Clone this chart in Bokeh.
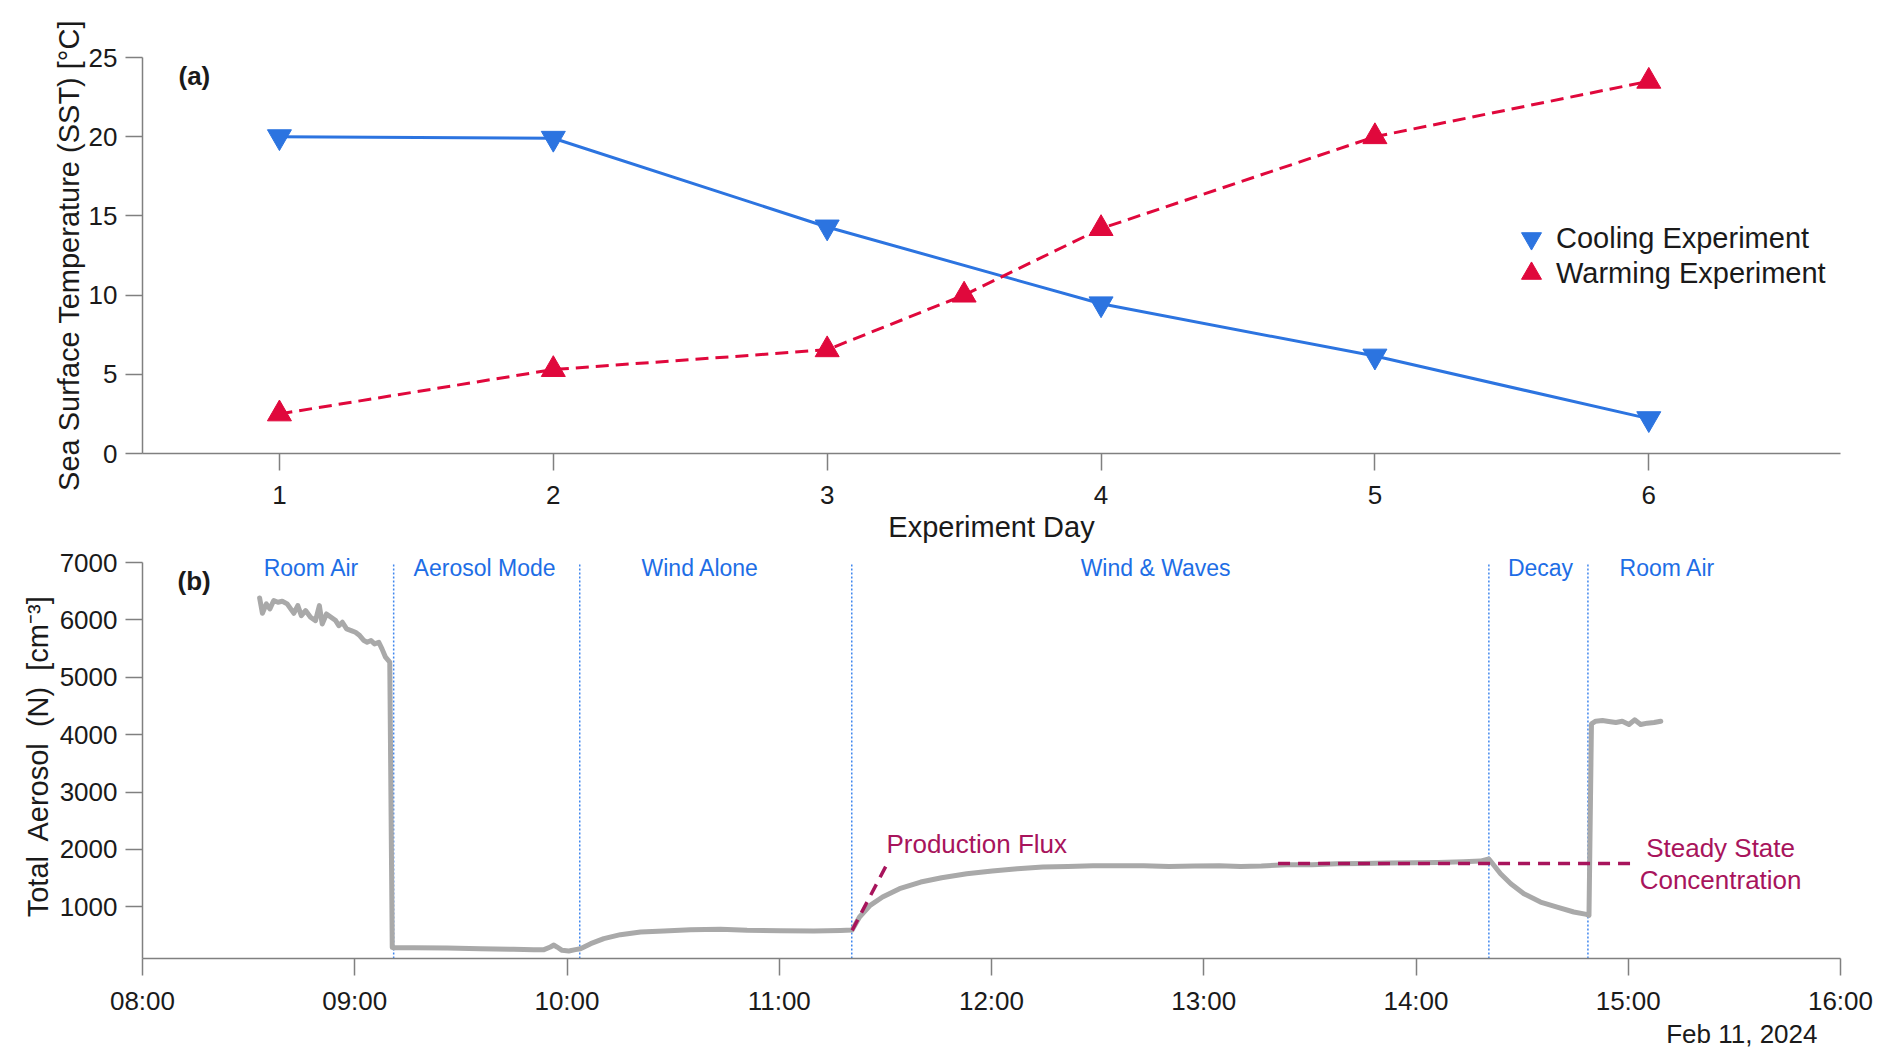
import pandas as pd
from bokeh.plotting import figure
from bokeh.models import Range1d, FixedTicker, Legend, LegendItem, Label, Title, DatetimeTickFormatter
from bokeh.layouts import column
from bokeh.embed import file_html
from bokeh.resources import INLINE
from bokeh.core.properties import value

FONT = "Liberation Sans"
BLUE = "#2c74e0"
RED = "#e0083c"
GRAY = "#a9a9a9"
PHASE_BLUE = "#1e6ee6"
SPAN_BLUE = "#3f86ee"
MAROON = "#a8145c"
AXIS = "#808080"
INK = "#1a1a1a"

# ---------------- Panel (a) data ----------------
cool_day = [1, 2, 3, 4, 5, 6]
cool_sst = [20.0, 19.9, 14.3, 9.45, 6.15, 2.2]
warm_day = [1, 2, 3, 3.5, 4, 5, 6]
warm_sst = [2.5, 5.3, 6.55, 10.0, 14.2, 20.0, 23.5]
day_ticks = [1, 2, 3, 4, 5, 6]
sst_ticks = [0, 5, 10, 15, 20, 25]

# ---------------- Panel (b) data ----------------
# minutes after 08:00 on Feb 11, 2024
aer_min = [33.1, 33.9, 35.0, 36.0, 37.1, 38.3, 39.5, 40.9, 41.9, 42.8,
           43.9, 44.9, 46.1, 47.5, 48.9, 50.0, 50.8, 52.0, 53.3, 54.6,
           55.5, 56.5, 57.7, 59.0, 60.2, 61.4, 62.6, 63.5, 64.6, 65.6,
           66.8, 67.7, 68.7, 69.9, 70.6,
           71.0, 76.7, 86.1, 95.5, 104.9, 110.6, 113.5, 115.3, 116.3, 117.2,
           118.6, 120.5, 122.4, 123.8, 126.7, 130.4, 135.1, 140.8, 147.4, 154.9,
           163.4, 170.9, 180.4, 189.8, 197.3, 200.6,
           202.7, 205.7, 209.2, 214.0, 220.0, 225.9, 233.0, 240.2, 247.3, 254.5,
           261.6, 268.7, 275.9, 283.0, 290.2, 297.3, 304.4, 310.4, 316.3, 323.5,
           330.6, 337.7, 344.9, 352.0, 359.2, 366.3, 373.4, 378.2, 380.6, 381.5,
           383.9, 386.8, 390.5, 395.2, 399.9, 404.6, 408.2, 408.9,
           409.6, 410.8, 412.7, 414.5, 416.5, 418.3, 420.2, 421.8, 423.5, 425.4,
           427.3, 429.2]
aer_n = [6383, 6116, 6279, 6192, 6337, 6308, 6325, 6279, 6192, 6116,
         6250, 6075, 6162, 6046, 5988, 6250, 5930, 6104, 6046, 5988,
         5901, 5959, 5843, 5814, 5785, 5727, 5640, 5611, 5640, 5582,
         5611, 5495, 5350, 5263, 290,
         289, 289, 283, 271, 260, 254, 254, 300, 335, 300,
         242, 231, 254, 271, 358, 446, 515, 562, 579, 602,
         608, 591, 585, 579, 590, 595,
         823, 1026, 1171, 1316, 1432, 1508, 1577, 1624, 1664, 1693,
         1705, 1717, 1717, 1717, 1705, 1711, 1717, 1705, 1711, 1734,
         1734, 1751, 1757, 1763, 1769, 1774, 1786, 1798, 1835, 1763,
         1577, 1403, 1229, 1084, 997, 910, 869, 852,
         4189, 4235, 4247, 4230, 4212, 4235, 4177, 4259, 4177, 4201,
         4212, 4235]

phase_bounds_min = [71.0, 123.6, 200.5, 380.6, 408.6]
phase_names = ["Room Air", "Aerosol Mode", "Wind Alone", "Wind & Waves", "Decay", "Room Air"]
phase_label_min = [47.8, 96.7, 157.7, 286.4, 395.2, 431.1]
phase_label_n = 6900

flux_min = [200.6, 210.6]
flux_n = [590, 1760]
steady_min = [321.0, 420.7]
steady_n = [1755, 1755]

flux_label_min = 210.3
flux_label_n = 2095
steady_label_min = 446.1
steady_label_n = [2025, 1468]
steady_label_text = ["Steady State", "Concentration"]

hour_ticks = [8, 9, 10, 11, 12, 13, 14, 15, 16]
n_ticks = [1000, 2000, 3000, 4000, 5000, 6000, 7000]
n_axis_min, n_axis_max = 100, 7000

t0 = pd.Timestamp("2024-02-11 08:00")


def ms(minutes):
    return (t0 + pd.Timedelta(minutes=float(minutes))).value / 1e6


def style_axes(p):
    p.grid.visible = False
    p.outline_line_color = None
    for ax in p.axis:
        ax.axis_line_color = AXIS
        ax.axis_line_width = 1.5
        ax.major_tick_line_color = AXIS
        ax.major_tick_line_width = 1.5
        ax.major_tick_in = 0
        ax.major_tick_out = 17
        ax.minor_tick_line_color = None
        ax.major_label_text_font = FONT
        ax.major_label_text_font_size = "26px"
        ax.major_label_text_color = INK
        ax.axis_label_text_font = FONT
        ax.axis_label_text_font_size = "29px"
        ax.axis_label_text_font_style = "normal"
        ax.axis_label_text_color = INK
    for ax in p.yaxis:
        ax.major_label_standoff = 8


# ---------------- Figure (a) ----------------
p1 = figure(frame_width=1698, frame_height=396, title=None,
            x_range=Range1d(0.5, 6.7), y_range=Range1d(0, 25),
            output_backend="svg", toolbar_location=None,
            min_border_left=142, min_border_right=44,
            min_border_top=57, min_border_bottom=94)
p1.xaxis.ticker = FixedTicker(ticks=day_ticks)
p1.yaxis.ticker = FixedTicker(ticks=sst_ticks)
p1.xaxis.axis_label = "Experiment Day"
p1.yaxis.axis_label = "Sea Surface Temperature (SST) [°C]"
style_axes(p1)
p1.xaxis.major_label_standoff = 15
p1.xaxis.axis_label_standoff = 4
p1.yaxis.axis_label_standoff = 1

p1.line(cool_day, cool_sst, line_color=BLUE, line_width=3)
sc_cool = p1.scatter(cool_day, cool_sst, marker="inverted_triangle", size=24,
                     fill_color=BLUE, line_color=BLUE)
p1.line(warm_day, warm_sst, line_color=RED, line_width=3, line_dash="13 7")
sc_warm = p1.scatter(warm_day, warm_sst, marker="triangle", size=24,
                     fill_color=RED, line_color=RED)


def make_legend(label, rend, loc):
    return Legend(items=[LegendItem(label=label, renderers=[rend])],
                  location=loc, glyph_width=50, glyph_height=50,
                  label_standoff=0, padding=0, margin=0, spacing=0,
                  border_line_color=None, background_fill_alpha=0,
                  label_text_font=FONT, label_text_font_size="29px",
                  label_text_color=INK)


p1.add_layout(make_legend("Cooling Experiment", sc_cool, (1364, 190)))
p1.add_layout(make_legend("Warming Experiment", sc_warm, (1364, 155)))

p1.add_layout(Label(x=36, y=378, x_units="screen", y_units="screen", text="(a)",
                    text_font=FONT, text_font_size="26px", text_font_style="bold",
                    text_color=INK, text_baseline="middle"))

# ---------------- Figure (b) ----------------
p2 = figure(frame_width=1698, frame_height=405, title=None, x_axis_type="datetime",
            x_range=Range1d(ms(0), ms(480)), y_range=Range1d(100, 7157),
            output_backend="svg", toolbar_location=None,
            min_border_left=142, min_border_right=44,
            min_border_top=6, min_border_bottom=0)
p2.xaxis.ticker = FixedTicker(ticks=[ms((h - 8) * 60) for h in hour_ticks])
p2.xaxis.formatter = DatetimeTickFormatter(hours="%H:%M", hourmin="%H:%M",
                                           minutes="%H:%M", days="%H:%M")
p2.yaxis.ticker = FixedTicker(ticks=n_ticks)
p2.yaxis.bounds = (n_axis_min, n_axis_max)
p2.yaxis.axis_label = "Total\u00a0 Aerosol\u00a0 (N)\u00a0 [cm\u207b\u00b3]"
style_axes(p2)
p2.xaxis.major_label_standoff = 10
p2.yaxis.axis_label_standoff = 3

bx = [ms(m) for m in phase_bounds_min]
p2.segment(x0=bx, x1=bx, y0=[n_axis_min] * len(bx), y1=[n_axis_max] * len(bx),
           line_color=SPAN_BLUE, line_width=1.5, line_dash="2 2")

p2.line([ms(m) for m in aer_min], aer_n, line_color=GRAY, line_width=5,
        line_join="round", line_cap="round")

p2.line([ms(m) for m in flux_min], flux_n, line_color=MAROON, line_width=3.5,
        line_dash="12 8")
p2.line([ms(m) for m in steady_min], steady_n, line_color=MAROON, line_width=3.5,
        line_dash="12 8")

p2.text(x=[ms(m) for m in phase_label_min], y=[phase_label_n] * len(phase_names),
        text=phase_names, text_font=value(FONT), text_font_size="23px",
        text_color=PHASE_BLUE, text_align="center", text_baseline="middle")

p2.text(x=[ms(flux_label_min)], y=[flux_label_n], text=["Production Flux"],
        text_font=value(FONT), text_font_size="26px", text_color=MAROON,
        text_align="left", text_baseline="middle")
p2.text(x=[ms(steady_label_min)] * 2, y=steady_label_n, text=steady_label_text,
        text_font=value(FONT), text_font_size="26px", text_color=MAROON,
        text_align="center", text_baseline="middle")

p2.add_layout(Label(x=35, y=378, x_units="screen", y_units="screen", text="(b)",
                    text_font=FONT, text_font_size="26px", text_font_style="bold",
                    text_color=INK, text_baseline="middle"))
p2.add_layout(Title(text="Feb 11, 2024", align="right", offset=23,
                    vertical_align="top", standoff=0,
                    text_font=FONT, text_font_size="26px", text_font_style="normal",
                    text_color=INK), "below")

layout = column(p1, p2)
open("out.html", "w").write(file_html(layout, INLINE))
